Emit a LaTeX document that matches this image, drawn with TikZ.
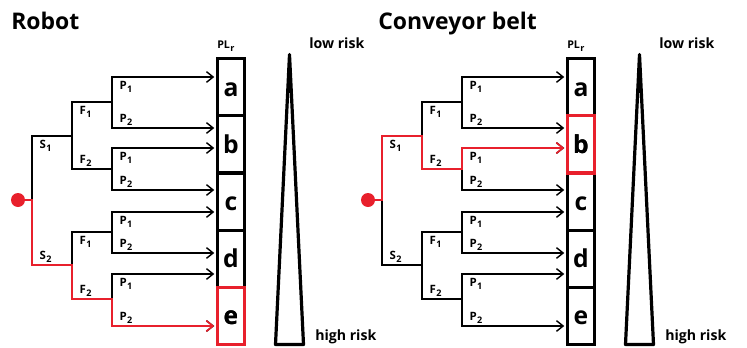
\documentclass[tikz,border=0pt]{standalone}
\usepackage{fontspec}
\setmainfont{Open Sans}
\usetikzlibrary{arrows.meta}

\definecolor{riskred}{RGB}{232,32,44}

% lowered index in the same font
\newcommand\idx[1]{\kern0.3pt\raisebox{-2.8pt}{\fontsize{6.8}{7}\selectfont #1}}

% one risk graph (tree, PL_r column, wedge, texts)
\newcommand\risktree{%
  % branch points
  \coordinate (root) at (32,200);
  \coordinate (s1) at (32,136);
  \coordinate (s2) at (32,265);
  \coordinate (f1) at (72,136);
  \coordinate (f2) at (72,265);
  \coordinate (f11) at (72,102);
  \coordinate (f12) at (72,169);
  \coordinate (f21) at (72,232);
  \coordinate (f22) at (72,299);
  \foreach \n/\y in {11/102,12/169,21/232,22/299}
    \coordinate (p\n) at (112,\y);
  \foreach \n/\y in {111/77,112/128,121/148,122/190,211/212,212/253,221/274,222/326}
    \coordinate (p\n) at (112,\y);
  % PL_r column
  \foreach \l [count=\i] in {a,b,c,d,e}
    \node[plbox] (\l) at (231,29.9+57.2*\i) {\l};
  % tree
  \draw[branch] (s1) -- (s2);
  \draw[branch] (s1) -- (f1) (s2) -- (f2);
  \draw[branch] (f11) -- (f12) (f21) -- (f22);
  \draw[branch] (f11) -- (p11) (f12) -- (p12) (f21) -- (p21) (f22) -- (p22);
  \draw[branch] (p111) -- (p112) (p121) -- (p122) (p211) -- (p212) (p221) -- (p222);
  \foreach \n/\tgt in {111/a,112/b,121/b,122/c,211/c,212/d,221/d,222/e}
    \draw[arr] (p\n) -- (p\n -| \tgt.west);
  % labels
  \node[lbldown] (ls1) at (s1) {S\idx{1}};
  \node[lblup] (ls2) at (s2) {S\idx{2}};
  \node[lbldown] (lf11) at (f11) {F\idx{1}};
  \node[lblup] (lf12) at (f12) {F\idx{2}};
  \node[lbldown] (lf21) at (f21) {F\idx{1}};
  \node[lblup] (lf22) at (f22) {F\idx{2}};
  \foreach \n in {11,12,21,22}{
    \node[lbldown] (lp\n1) at (p\n1) {P\idx{1}};
    \node[lblup] (lp\n2) at (p\n2) {P\idx{2}};
  }
  % risk wedge
  \coordinate (top) at (289.5,54.5);
  \coordinate (bl) at (275.5,344.5);
  \coordinate (br) at (303.5,344.5);
  \draw[wedge] (top) -- (br) -- (bl) -- cycle;
  \node[txt, font=\fontsize{8}{8}\selectfont\bfseries] (pl) at (217,48) {PL\idx{r}};
  \node[txt] (low) at (309,48) {low risk};
  \node[txt] (high) at (315,340.5) {high risk};
  % source
  \node[dot] (src) at (18,200) {};
}

\begin{document}
\begin{tikzpicture}[x=0.75pt, y=-0.75pt,
  branch/.style={line width=1.1pt, line cap=rect},
  arr/.style={branch, -{Straight Barb[length=5pt,width=8pt]}, shorten >=1.2pt},
  redpath/.style={arr, draw=riskred, line width=1.25pt, line cap=butt},
  plbox/.style={draw, line width=2.4pt, minimum width=20.25pt, minimum height=42.9pt,
    inner sep=0pt, text height=13.5pt, text depth=0pt, font=\fontsize{18.5}{18}\selectfont\bfseries},
  lbl/.style={inner sep=0pt, anchor=base west, font=\fontsize{8.6}{9}\selectfont\bfseries},
  lbldown/.style={lbl, xshift=5.5pt, yshift=-9pt},
  lblup/.style={lbl, xshift=5.5pt, yshift=4.5pt},
  txt/.style={inner sep=0pt, anchor=base west, font=\fontsize{10.6}{11}\selectfont\bfseries},
  title/.style={inner sep=0pt, anchor=base west, font=\fontsize{17.2}{18}\selectfont\bfseries},
  dot/.style={circle, fill=riskred, inner sep=0pt, minimum size=10.5pt},
  wedge/.style={draw, line width=2.4pt, line join=round},
]
\useasboundingbox (0,0) rectangle (747,347);

\node[title] (robot) at (11,29) {Robot};
\node[title] (belt) at (378,29) {Conveyor belt};

\begin{scope}[name prefix=L-]
  \risktree
  \draw[redpath] (src) -- (root) -- (s2) -- (f2) -- (f22) -- (p22) -- (p222) -- (p222 -| e.west);
  \node[plbox, draw=riskred] (e-hi) at (e) {e};
\end{scope}

\begin{scope}[shift={(350,0)}, name prefix=R-]
  \risktree
  \draw[redpath] (src) -- (root) -- (s1) -- (f1) -- (f12) -- (p12) -- (p121) -- (p121 -| b.west);
  \node[plbox, draw=riskred] (b-hi) at (b) {b};
\end{scope}
\end{tikzpicture}
\end{document}
